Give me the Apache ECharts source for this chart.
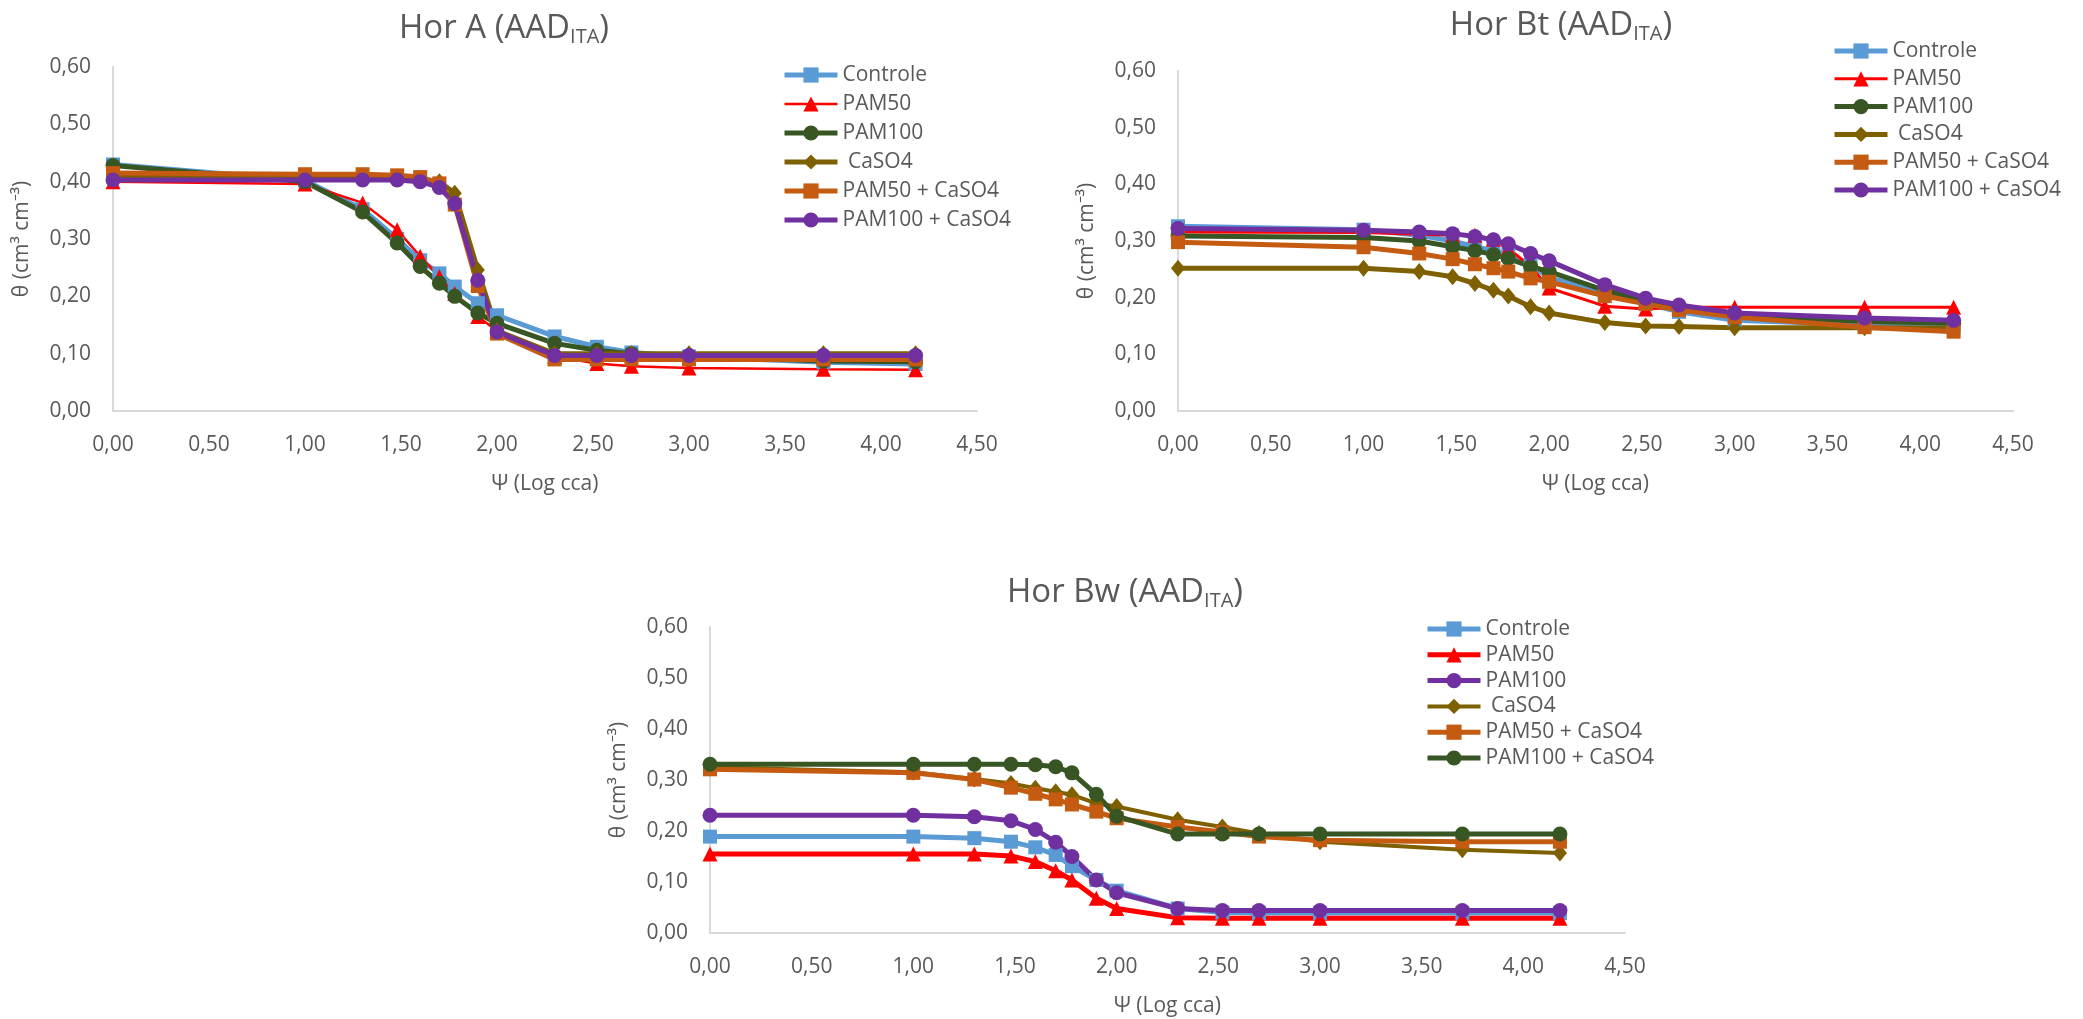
<!DOCTYPE html>
<html>
<head>
<meta charset="utf-8">
<title>Curvas de retenção de água</title>
<script src="https://cdn.jsdelivr.net/npm/echarts@6/dist/echarts.min.js"></script>
<style>
  html, body { margin: 0; padding: 0; background: #fff; }
  #chart { width: 2083px; height: 1019px; }
</style>
</head>
<body>
<div id="chart"></div>
<script>
// Potencial matricial, log10 da tensão (cca)
const psi = [0, 1, 1.3, 1.48, 1.6, 1.7, 1.78, 1.9, 2.0, 2.3, 2.52, 2.7, 3.0, 3.7, 4.18];

const xTicks = [0, 0.5, 1, 1.5, 2, 2.5, 3, 3.5, 4, 4.5];
const yTicks = [0, 0.1, 0.2, 0.3, 0.4, 0.5, 0.6];

const treatments = ['Controle', 'PAM50', 'PAM100', ' CaSO4', 'PAM50 + CaSO4', 'PAM100 + CaSO4'];

// Horizonte A
const controleA  = [0.430, 0.402, 0.352, 0.300, 0.263, 0.240, 0.217, 0.188, 0.167, 0.130, 0.112, 0.102, 0.095, 0.085, 0.082];
const pam50A     = [0.400, 0.396, 0.363, 0.316, 0.270, 0.234, 0.205, 0.165, 0.140, 0.095, 0.083, 0.078, 0.075, 0.073, 0.072];
const pam100A    = [0.428, 0.400, 0.347, 0.293, 0.252, 0.223, 0.200, 0.171, 0.153, 0.118, 0.106, 0.100, 0.096, 0.087, 0.086];
const caso4A     = [0.410, 0.410, 0.410, 0.408, 0.405, 0.400, 0.380, 0.246, 0.140, 0.100, 0.100, 0.100, 0.100, 0.100, 0.100];
const pam50caA   = [0.415, 0.413, 0.413, 0.411, 0.408, 0.397, 0.360, 0.218, 0.135, 0.090, 0.090, 0.090, 0.090, 0.090, 0.090];
const pam100caA  = [0.403, 0.403, 0.403, 0.403, 0.400, 0.390, 0.362, 0.228, 0.138, 0.097, 0.097, 0.097, 0.097, 0.097, 0.097];

// Horizonte Bt
const controleBt = [0.326, 0.320, 0.310, 0.300, 0.290, 0.283, 0.275, 0.258, 0.235, 0.210, 0.190, 0.175, 0.160, 0.152, 0.150];
const pam50Bt    = [0.316, 0.315, 0.312, 0.310, 0.310, 0.303, 0.287, 0.255, 0.217, 0.185, 0.180, 0.183, 0.183, 0.183, 0.183];
const pam100Bt   = [0.309, 0.306, 0.300, 0.290, 0.283, 0.276, 0.269, 0.255, 0.246, 0.213, 0.195, 0.183, 0.170, 0.158, 0.155];
const caso4Bt    = [0.252, 0.252, 0.246, 0.237, 0.225, 0.213, 0.203, 0.184, 0.173, 0.156, 0.150, 0.149, 0.147, 0.147, 0.146];
const pam50caBt  = [0.298, 0.289, 0.278, 0.268, 0.259, 0.252, 0.246, 0.234, 0.228, 0.203, 0.189, 0.178, 0.166, 0.148, 0.140];
const pam100caBt = [0.322, 0.319, 0.316, 0.313, 0.308, 0.302, 0.295, 0.278, 0.265, 0.223, 0.199, 0.187, 0.173, 0.164, 0.160];

// Horizonte Bw
const controleBw = [0.189, 0.189, 0.186, 0.179, 0.168, 0.153, 0.131, 0.104, 0.083, 0.048, 0.040, 0.039, 0.039, 0.039, 0.039];
const pam50Bw    = [0.155, 0.155, 0.155, 0.151, 0.140, 0.122, 0.104, 0.068, 0.048, 0.030, 0.029, 0.029, 0.029, 0.029, 0.029];
const pam100Bw   = [0.231, 0.231, 0.228, 0.220, 0.203, 0.178, 0.150, 0.104, 0.079, 0.048, 0.044, 0.044, 0.044, 0.044, 0.044];
const caso4Bw    = [0.325, 0.315, 0.302, 0.293, 0.284, 0.277, 0.271, 0.254, 0.248, 0.222, 0.208, 0.195, 0.179, 0.163, 0.157];
const pam50caBw  = [0.321, 0.314, 0.301, 0.285, 0.273, 0.262, 0.252, 0.238, 0.225, 0.208, 0.198, 0.189, 0.182, 0.179, 0.179];
const pam100caBw = [0.331, 0.331, 0.331, 0.331, 0.330, 0.326, 0.314, 0.272, 0.229, 0.194, 0.194, 0.194, 0.194, 0.194, 0.194];

const BLUE = '#5B9BD5', RED = '#FF0000', GREEN = '#375623', OLIVE = '#7F6000', ORANGE = '#C55A11', PURPLE = '#7030A0';
const FONT = 'Open Sans';
const GREY = '#595959';

const symbols = ['rect', 'triangle', 'circle', 'diamond', 'rect', 'circle'];
const symbolSizes = [14, 15, 15, [14, 17], 14, 15];

const panels = [
  { key: 'A',  title: 'Hor A (AAD', data: [controleA, pam50A, pam100A, caso4A, pam50caA, pam100caA],
    colors: [BLUE, RED, GREEN, OLIVE, ORANGE, PURPLE], widths: [5, 2.5, 5, 5, 5, 5],
    grid: { left: 113, right: 1106, top: 67, bottom: 608 },
    titlePos: { left: 499, top: 6 },
    legendPos: { left: 782, top: 64.5, itemGap: 8 } },
  { key: 'Bt', title: 'Hor Bt (AAD', data: [controleBt, pam50Bt, pam100Bt, caso4Bt, pam50caBt, pam100caBt],
    colors: [BLUE, RED, GREEN, OLIVE, ORANGE, PURPLE], widths: [5, 3, 5, 5, 5, 5],
    grid: { left: 1178, right: 70, top: 71, bottom: 608 },
    titlePos: { left: 1556, top: 3 },
    legendPos: { left: 1832, top: 40.5, itemGap: 6.8 } },
  { key: 'Bw', title: 'Hor Bw (AAD', data: [controleBw, pam50Bw, pam100Bw, caso4Bw, pam50caBw, pam100caBw],
    colors: [BLUE, RED, PURPLE, OLIVE, ORANGE, GREEN], widths: [5, 5, 5, 4, 5, 5],
    grid: { left: 710, right: 458, top: 627, bottom: 86 },
    titlePos: { left: 1120, top: 570 },
    legendPos: { left: 1425, top: 618.5, itemGap: 4.8 } }
];

const fmt = v => v.toFixed(2).replace('.', ',');

const option = {
  backgroundColor: '#fff',
  animation: false,
  textStyle: { fontFamily: FONT },
  title: [], legend: [], grid: [], xAxis: [], yAxis: [], series: []
};

panels.forEach((p, i) => {
  option.title.push({
    text: '{a|' + p.title + '}{s|ITA}{a|)}',
    left: p.titlePos.left, top: p.titlePos.top, textAlign: 'center',
    textStyle: {
      fontWeight: 'normal',
      rich: {
        a: { fontFamily: FONT, fontSize: 33, color: GREY, fontWeight: 'normal' },
        s: { fontFamily: FONT, fontSize: 20, color: GREY, fontWeight: 'normal', padding: [16, 0, 0, 0] }
      }
    }
  });
  option.grid.push(Object.assign({ containLabel: false }, p.grid));
  option.xAxis.push({
    gridIndex: i, type: 'value', min: xTicks[0], max: xTicks[xTicks.length - 1],
    interval: xTicks[1] - xTicks[0],
    name: 'Ψ (Log cca)', nameLocation: 'middle', nameGap: 63,
    nameTextStyle: { fontFamily: FONT, fontSize: 21, color: GREY },
    axisLine: { show: true, lineStyle: { color: '#D9D9D9', width: 2 } },
    axisTick: { show: false }, splitLine: { show: false },
    axisLabel: { formatter: fmt, margin: 24, fontFamily: FONT, fontSize: 21, color: GREY }
  });
  option.yAxis.push({
    gridIndex: i, type: 'value', min: yTicks[0], max: yTicks[yTicks.length - 1],
    interval: yTicks[1] - yTicks[0],
    name: 'θ (cm³ cm⁻³)', nameLocation: 'middle', nameGap: 80,
    nameTextStyle: { fontFamily: FONT, fontSize: 21, color: GREY },
    axisLine: { show: true, lineStyle: { color: '#D9D9D9', width: 2 } },
    axisTick: { show: false }, splitLine: { show: false },
    axisLabel: { formatter: fmt, margin: 22, fontFamily: FONT, fontSize: 21, color: GREY }
  });
  const names = treatments.map(t => p.key + ':' + t);
  option.legend.push({
    data: names.map((n, j) => ({ name: n, lineStyle: { width: p.widths[j] } })),
    orient: 'vertical', left: p.legendPos.left, top: p.legendPos.top, padding: 0,
    itemWidth: 53, itemHeight: 19, itemGap: p.legendPos.itemGap, selectedMode: false,
    formatter: n => n.slice(n.indexOf(':') + 1),
    textStyle: { fontFamily: FONT, fontSize: 21, color: GREY, padding: [0, 0, 0, 0] }
  });
  p.data.forEach((vals, j) => {
    option.series.push({
      name: names[j], type: 'line', xAxisIndex: i, yAxisIndex: i,
      data: psi.map((x, k) => [x, vals[k]]),
      symbol: symbols[j], symbolSize: symbolSizes[j],
      lineStyle: { color: p.colors[j], width: p.widths[j] },
      itemStyle: { color: p.colors[j], borderWidth: 0 },
      emphasis: { disabled: true }
    });
  });
});

const chart = echarts.init(document.getElementById('chart'), null, { renderer: 'canvas' });
chart.setOption(option);
</script>
</body>
</html>
